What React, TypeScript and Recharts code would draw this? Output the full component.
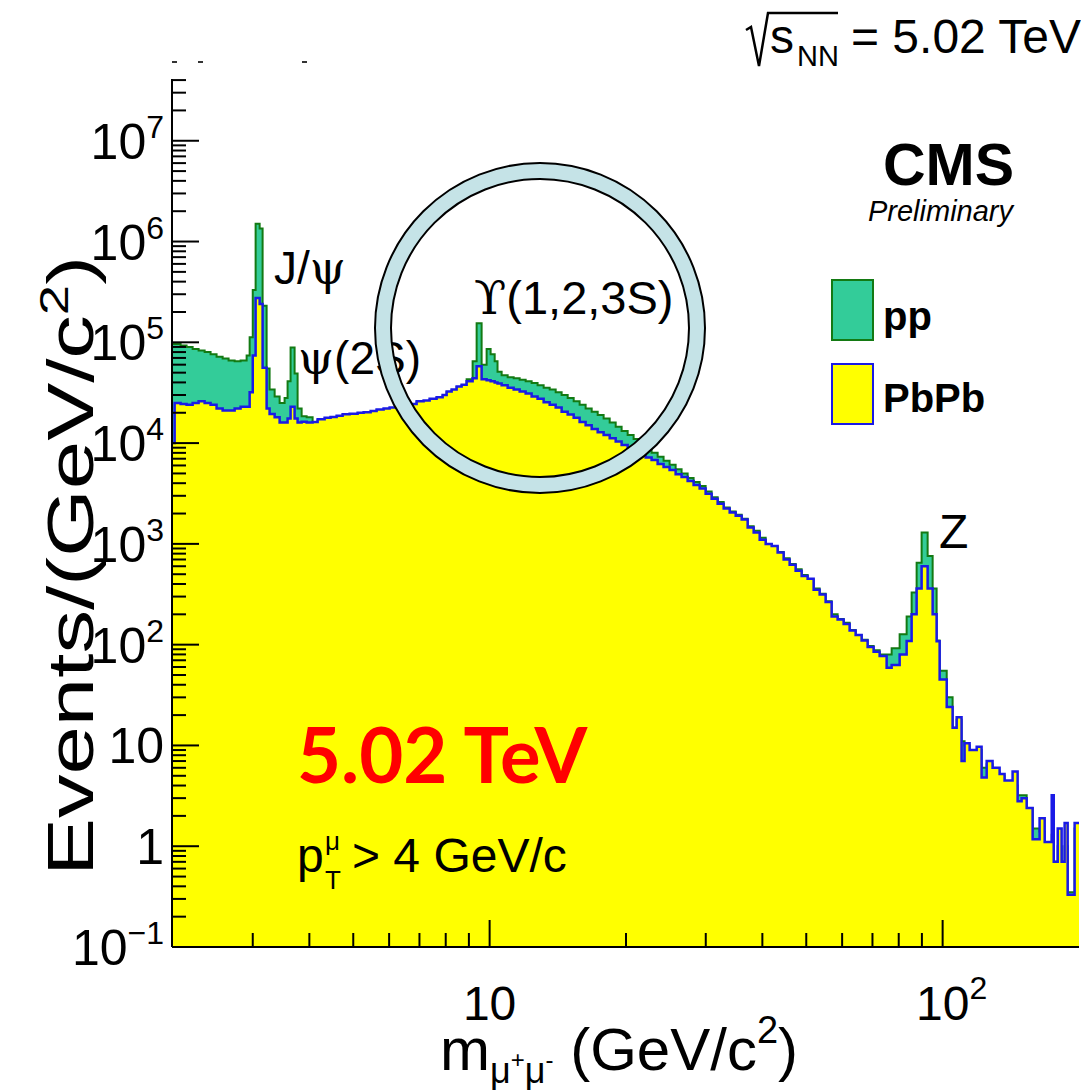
import React from 'react';
import { ComposedChart, Area, Line, XAxis, YAxis } from 'recharts';

// Bin lower edges of the dimuon invariant mass (GeV/c^2), log-spaced-ish histogram
const massEdges = [
  2.0, 2.017, 2.079, 2.143, 2.21, 2.278, 2.349, 2.421, 2.496, 2.574,
  2.653, 2.736, 2.82, 2.908, 2.953, 3.0, 3.044, 3.107, 3.154, 3.219,
  3.268, 3.353, 3.439, 3.527, 3.581, 3.636, 3.711, 3.768, 3.846, 3.945,
  4.067, 4.172, 4.323, 4.456, 4.595, 4.737, 4.909, 5.113, 5.271, 5.462,
  5.63, 5.834, 6.015, 6.233, 6.459, 6.658, 6.9, 7.15, 7.372, 7.638,
  7.875, 8.037, 8.244, 8.456, 8.674, 8.897, 9.172, 9.361, 9.601, 9.849,
  10.05, 10.26, 10.41, 10.63, 10.96, 11.3, 11.65, 12.01, 12.38, 12.76,
  13.16, 13.57, 13.99, 14.42, 14.87, 15.33, 15.8, 16.29, 16.8, 17.32,
  17.85, 18.41, 18.98, 19.56, 20.17, 20.79, 21.43, 22.1, 22.78, 23.49,
  24.21, 24.96, 25.74, 26.53, 27.36, 28.2, 29.08, 29.98, 30.91, 31.87,
  32.86, 33.88, 34.93, 36.01, 37.12, 38.27, 39.46, 40.68, 41.94, 43.23,
  44.57, 45.95, 47.37, 48.84, 50.35, 51.91, 53.52, 55.17, 56.88, 58.64,
  60.46, 62.33, 64.26, 66.25, 68.3, 70.41, 72.6, 75.23, 77.17, 80.37,
  83.28, 85.42, 87.62, 89.87, 92.66, 95.05, 96.99, 98.49, 102.1, 105.2,
  107.4, 110.1, 111.8, 114.7, 118.9, 121.9, 125.1, 128.9, 133.6, 137.0,
  142.7, 146.4, 149.4, 153.3, 158.0, 163.7, 168.0, 174.1, 175.9, 179.5,
  183.1, 185.9, 188.8, 195.6, 200,
];

// pp events per bin
const ppCounts = [
  96000, 96000, 93000, 90000, 86000, 83000, 80000, 76000, 72000, 69000,
  66000, 65000, 66000, 74000, 112000, 330000, 1500000, 1350000, 230000, 55000,
  34000, 29000, 25000, 28000, 41000, 89000, 49000, 22000, 18500, 18000,
  16000, 16900, 17400, 17900, 18300, 18900, 19100, 19600, 19800, 20400,
  21000, 21500, 22000, 22700, 23300, 24000, 25500, 26000, 27000, 28000,
  29500, 32000, 33500, 36000, 37500, 43000, 65000, 155000, 60000, 86000,
  76000, 65000, 51000, 47000, 45000, 44000, 42500, 41000, 39500, 37500,
  35500, 34000, 32000, 30000, 28000, 26000, 24000, 22000, 20500, 19000,
  17500, 16000, 14500, 13200, 12000, 11000, 9800, 8800, 8000, 7300,
  6700, 6100, 5500, 5000, 4500, 4100, 3750, 3300, 2900, 2600,
  2300, 2100, 1950, 1780, 1500, 1350, 1150, 1000, 930, 830,
  720, 630, 560, 490, 440, 360, 320, 270, 200, 180,
  165, 140, 125, 112, 97, 88, 80, 80, 92, 127,
  190, 330, 650, 1300, 760, 360, 110, 55, 30, 15,
  18, 11, 10, 9, 9, 6, 6.5, 5.5, 5, 4.3,
  4, 3.2, 3.2, 2.4, 1.5, 1.4, 1.1, 1.3, 0.7, 1.0,
  0.7, 1.0, 0.35, 1.5, 1.5,
];

// PbPb events per bin
const pbpbCounts = [
  10000, 25000, 24500, 24000, 25000, 26000, 25000, 24000, 22000, 21000,
  21000, 22000, 23000, 23000, 32000, 74000, 275000, 240000, 56000, 22000,
  19400, 18000, 16000, 16000, 17500, 23000, 17500, 16000, 16300, 16000,
  16200, 17200, 17800, 18200, 18700, 19300, 19500, 20000, 20200, 20800,
  21500, 22000, 22500, 23200, 23800, 24500, 26000, 26500, 27500, 28500,
  30000, 32500, 34000, 36500, 38000, 41000, 44000, 58000, 43000, 42000,
  41000, 40000, 39000, 37500, 35500, 34000, 32500, 31000, 29000, 27500,
  25500, 24000, 22500, 20500, 19200, 17800, 16200, 15000, 13800, 12800,
  12000, 11200, 10400, 9600, 8900, 8300, 7800, 7200, 6800, 6200,
  5800, 5400, 4900, 4600, 4200, 3850, 3550, 3150, 2800, 2500,
  2250, 2050, 1900, 1750, 1450, 1300, 1100, 1000, 950, 820,
  700, 620, 540, 480, 450, 350, 315, 265, 190, 178,
  160, 138, 125, 110, 95, 85, 77, 59, 63, 80,
  109, 200, 360, 600, 360, 200, 108, 45, 24, 15,
  19, 7, 10.5, 9, 9.7, 4.8, 7, 6, 5.2, 4.5,
  5.5, 2.8, 3.0, 2.4, 1.17, 1.9, 1.1, 3.2, 0.7, 1.5,
  0.7, 1.7, 0.33, 1.7, 1.7,
];

const xTicks = [3, 4, 5, 6, 7, 8, 9, 10, 20, 30, 40, 50, 60, 70, 80, 90, 100];
const yDecades = [0.1, 1, 10, 100, 1000, 10000, 100000, 1000000, 10000000];
const yMultipliers = [1, 2, 3, 4, 5, 6, 7, 8, 9];

const data = massEdges.map((m, i) => ({ mass: m, pp: ppCounts[i], pbpb: pbpbCounts[i] }));
const yTicks: number[] = [];
yDecades.forEach((d) => yMultipliers.forEach((k) => {
  const v = d * k;
  if (v <= 4.1e7) yTicks.push(v);
}));

const FONT = '"Liberation Sans", Arial, Helvetica, sans-serif';
const GREEK = '"DejaVu Serif", "Liberation Serif", serif';
const MAJ = 27;
const MIN = 14;

const isMajor = (v: number) => {
  const e = Math.log10(v);
  return Math.abs(e - Math.round(e)) < 1e-6;
};

const BottomTick = (props: any) => {
  const { x, y, payload } = props;
  const v = payload.value;
  const major = isMajor(v);
  const e = Math.round(Math.log10(v));
  return (
    <g>
      <line x1={x} x2={x} y1={y} y2={y - (major ? MAJ : MIN)} stroke="#000" strokeWidth={2} />
      {major && (
        <text x={x + (e > 1 ? 9 : 0)} y={y + 73} textAnchor="middle" fontSize={48} fontFamily={FONT} fill="#000">
          10{e > 1 && <tspan fontSize={32} dy={-21}>{e}</tspan>}
        </text>
      )}
    </g>
  );
};

const TopTick = (props: any) => {
  const { x, y, payload } = props;
  const major = isMajor(payload.value);
  return <line x1={x} x2={x} y1={y} y2={y + (major ? MAJ : MIN)} stroke="#000" strokeWidth={2} />;
};

const LeftTick = (props: any) => {
  const { x, y, payload } = props;
  const v = payload.value;
  const major = isMajor(v);
  const e = Math.round(Math.log10(v));
  let label: React.ReactNode = null;
  if (major) {
    if (e === 0) label = '1';
    else if (e === 1) label = '10';
    else label = (<>10<tspan fontSize={32} dy={-21}>{e < 0 ? '\u2212' + Math.abs(e) : e}</tspan></>);
  }
  return (
    <g>
      <line x1={x} x2={x + (major ? MAJ : MIN)} y1={y} y2={y} stroke="#000" strokeWidth={2} />
      {major && (
        <text x={x - 8} y={y + 18} textAnchor="end" fontSize={50} fontFamily={FONT} fill="#000">{label}</text>
      )}
    </g>
  );
};

const RightTick = (props: any) => {
  const { x, y, payload } = props;
  const major = isMajor(payload.value);
  return <line x1={x} x2={x - (major ? MAJ : MIN)} y1={y} y2={y} stroke="#000" strokeWidth={2} />;
};

const Overlay = () => (
  <svg width={1081} height={1090} style={{ position: 'absolute', left: 0, top: 0, pointerEvents: 'none' }}>
    {/* cropped remnants at the top-left */}
    <rect x={172} y={61} width={5} height={2} fill="#333" />
    <rect x={198} y={61} width={5} height={2} fill="#333" />
    <rect x={302} y={61} width={5} height={2} fill="#333" />

    {/* sqrt(s_NN) = 5.02 TeV */}
    <path d="M746,30 L751,27 L759,66 L768,13 L838,13" fill="none" stroke="#000" strokeWidth={2.5} />
    <text x={770} y={53} fontSize={48} fontFamily={FONT} fill="#000">s</text>
    <text x={797} y={66} fontSize={29} fontFamily={FONT} fill="#000">NN</text>
    <text x={851} y={53} fontSize={48} fontFamily={FONT} fill="#000">= 5.02 TeV</text>

    {/* CMS Preliminary */}
    <text x={1014} y={185} textAnchor="end" fontSize={59} fontWeight="bold" fontFamily={FONT} fill="#000">CMS</text>
    <text x={1013} y={221} textAnchor="end" fontSize={29} fontStyle="italic" fontFamily={FONT} fill="#000">Preliminary</text>

    {/* Legend */}
    <rect x={832} y={280} width={41} height={60} fill="#33cc99" stroke="#137a13" strokeWidth={2} />
    <text x={883} y={330} fontSize={40} fontWeight="bold" fontFamily={FONT} fill="#000">pp</text>
    <rect x={832} y={364} width={41} height={60} fill="#ffff00" stroke="#1a1ae6" strokeWidth={2} />
    <text x={883} y={412} fontSize={40} fontWeight="bold" fontFamily={FONT} fill="#000">PbPb</text>

    {/* Resonance labels */}
    <text x={274} y={284} fontSize={46} fontFamily={FONT} fill="#000">J/<tspan fontFamily={GREEK}>ψ</tspan></text>
    <text x={298} y={374} fontSize={46} fontFamily={FONT} fill="#000"><tspan fontFamily={GREEK}>ψ</tspan>(2S)</text>
    <text x={474} y={314} fontSize={47} fontFamily={FONT} fill="#000"><tspan fontFamily={GREEK}>ϒ</tspan>(1,2,3S)</text>
    <text x={939} y={548} fontSize={48} fontFamily={FONT} fill="#000">Z</text>

    {/* Highlight ring */}
    <circle cx={540} cy={328} r={157} fill="none" stroke="#c5e3e7" strokeWidth={16} />
    <circle cx={540} cy={328} r={165} fill="none" stroke="#000" strokeWidth={2} />
    <circle cx={540} cy={328} r={149} fill="none" stroke="#000" strokeWidth={2} />

    {/* 5.02 TeV in red */}
    <text x={297} y={783} fontSize={76} fontWeight="bold" fontFamily='Lato, "Open Sans", sans-serif' fill="#ff0000">5.02 TeV</text>

    {/* pT cut */}
    <text x={297} y={872} fontSize={48} fontFamily={FONT} fill="#000">p</text>
    <text x={325} y={850} fontSize={26} fontFamily={FONT} fill="#000">μ</text>
    <text x={325} y={889} fontSize={26} fontFamily={FONT} fill="#000">T</text>
    <text x={352} y={872} fontSize={48} fontFamily={FONT} fill="#000">&gt; 4 GeV/c</text>

    {/* Axis titles */}
    <text transform="translate(93, 566) rotate(-90) scale(1.36, 1)" textAnchor="middle" fontSize={64} fontFamily={FONT} fill="#000">
      Events/(GeV/c<tspan fontSize={40} dy={-25}>2</tspan><tspan dy={25}>)</tspan>
    </text>
    <text x={440} y={1070} fontSize={60} fontFamily={FONT} fill="#000">
      m<tspan fontSize={36} dy={13}>μ</tspan><tspan fontSize={24} dy={-15}>+</tspan><tspan fontSize={36} dy={15}>μ</tspan><tspan fontSize={24} dy={-15}>-</tspan><tspan dy={2}> (GeV/c</tspan><tspan fontSize={38} dy={-27}>2</tspan><tspan dy={27}>)</tspan>
    </text>
  </svg>
);

export default function App() {
  return (
    <div style={{ position: 'absolute', left: 0, top: 0, width: 1081, height: 1090, background: '#fff' }}>
      <ComposedChart
        width={1081}
        height={1090}
        data={data}
        margin={{ top: 79, right: 2, bottom: 43, left: 0 }}
      >
        <XAxis
          xAxisId="bottom"
          dataKey="mass"
          type="number"
          scale="log"
          domain={[1.99, 200]}
          allowDataOverflow
          ticks={xTicks}
          interval={0}
          tickSize={0}
          tickMargin={0}
          tick={(p: any) => <BottomTick {...p} />}
          axisLine={{ stroke: '#000', strokeWidth: 2 }}
          tickLine={false}
          height={100}
        />
        <XAxis
          xAxisId="top"
          orientation="top"
          dataKey="mass"
          type="number"
          scale="log"
          domain={[1.99, 200]}
          allowDataOverflow
          ticks={xTicks}
          interval={0}
          tickSize={0}
          tickMargin={0}
          tick={(p: any) => <TopTick {...p} />}
          axisLine={{ stroke: '#000', strokeWidth: 2 }}
          tickLine={false}
          height={0}
        />
        <YAxis
          yAxisId="left"
          type="number"
          scale="log"
          domain={[0.1, 4.1e7]}
          allowDataOverflow
          ticks={yTicks}
          interval={0}
          tickSize={0}
          tickMargin={0}
          tick={(p: any) => <LeftTick {...p} />}
          axisLine={{ stroke: '#000', strokeWidth: 2 }}
          tickLine={false}
          width={172}
        />
        <YAxis
          yAxisId="right"
          orientation="right"
          type="number"
          scale="log"
          domain={[0.1, 4.1e7]}
          allowDataOverflow
          ticks={yTicks}
          interval={0}
          tickSize={0}
          tickMargin={0}
          tick={(p: any) => <RightTick {...p} />}
          axisLine={{ stroke: '#000', strokeWidth: 2 }}
          tickLine={false}
          width={0}
        />
        <Area
          xAxisId="bottom"
          yAxisId="left"
          type="stepAfter"
          dataKey="pp"
          baseValue={0.1}
          fill="#33cc99"
          fillOpacity={1}
          stroke="#137a13"
          strokeWidth={2}
          isAnimationActive={false}
          dot={false}
          activeDot={false}
        />
        <Area
          xAxisId="bottom"
          yAxisId="left"
          type="stepAfter"
          dataKey="pbpb"
          baseValue={0.1}
          fill="#ffff00"
          fillOpacity={1}
          stroke="#1a1ae6"
          strokeWidth={2.5}
          isAnimationActive={false}
          dot={false}
          activeDot={false}
        />
        <Line
          xAxisId="top"
          yAxisId="right"
          dataKey="pp"
          stroke="none"
          dot={false}
          activeDot={false}
          isAnimationActive={false}
        />
      </ComposedChart>
      <Overlay />
    </div>
  );
}
